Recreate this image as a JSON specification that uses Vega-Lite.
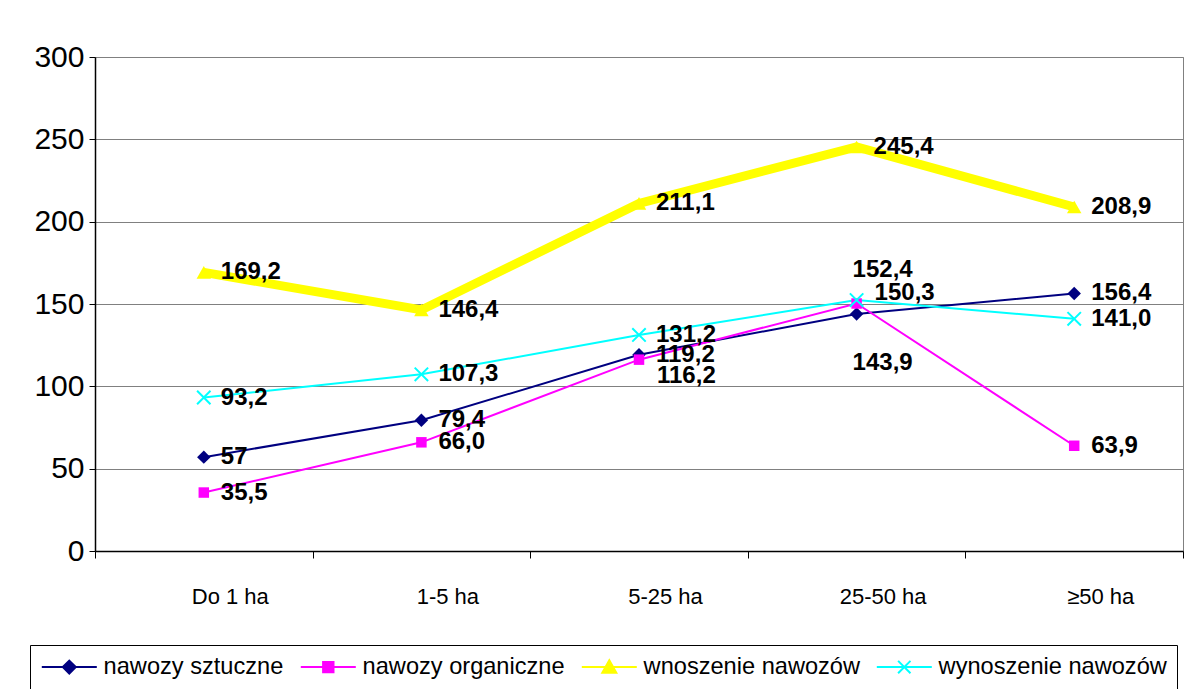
{
  "$schema": "https://vega.github.io/schema/vega-lite/v6.json",
  "width": 1088,
  "height": 494,
  "autosize": {"type": "none"},
  "padding": {"left": 95, "top": 57, "right": 7, "bottom": 138},
  "background": "white",
  "config": {
    "font": "Liberation Sans",
    "view": {"stroke": "#808080", "strokeWidth": 1}
  },
  "data": {
    "values": [
      {"cat": "Do 1 ha", "series": "nawozy sztuczne", "value": 57, "label": "57"},
      {"cat": "1-5 ha", "series": "nawozy sztuczne", "value": 79.4, "label": "79,4"},
      {"cat": "5-25 ha", "series": "nawozy sztuczne", "value": 119.2, "label": "119,2"},
      {"cat": "25-50 ha", "series": "nawozy sztuczne", "value": 143.9, "label": "143,9"},
      {"cat": "≥50 ha", "series": "nawozy sztuczne", "value": 156.4, "label": "156,4"},
      {"cat": "Do 1 ha", "series": "nawozy organiczne", "value": 35.5, "label": "35,5"},
      {"cat": "1-5 ha", "series": "nawozy organiczne", "value": 66.0, "label": "66,0"},
      {"cat": "5-25 ha", "series": "nawozy organiczne", "value": 116.2, "label": "116,2"},
      {"cat": "25-50 ha", "series": "nawozy organiczne", "value": 150.3, "label": "150,3"},
      {"cat": "≥50 ha", "series": "nawozy organiczne", "value": 63.9, "label": "63,9"},
      {"cat": "Do 1 ha", "series": "wnoszenie nawozów", "value": 169.2, "label": "169,2"},
      {"cat": "1-5 ha", "series": "wnoszenie nawozów", "value": 146.4, "label": "146,4"},
      {"cat": "5-25 ha", "series": "wnoszenie nawozów", "value": 211.1, "label": "211,1"},
      {"cat": "25-50 ha", "series": "wnoszenie nawozów", "value": 245.4, "label": "245,4"},
      {"cat": "≥50 ha", "series": "wnoszenie nawozów", "value": 208.9, "label": "208,9"},
      {"cat": "Do 1 ha", "series": "wynoszenie nawozów", "value": 93.2, "label": "93,2"},
      {"cat": "1-5 ha", "series": "wynoszenie nawozów", "value": 107.3, "label": "107,3"},
      {"cat": "5-25 ha", "series": "wynoszenie nawozów", "value": 131.2, "label": "131,2"},
      {"cat": "25-50 ha", "series": "wynoszenie nawozów", "value": 152.4, "label": "152,4"},
      {"cat": "≥50 ha", "series": "wynoszenie nawozów", "value": 141.0, "label": "141,0"}
    ]
  },
  "encoding": {
    "x": {
      "field": "cat",
      "type": "nominal",
      "sort": ["Do 1 ha", "1-5 ha", "5-25 ha", "25-50 ha", "≥50 ha"],
      "scale": {"type": "band", "paddingInner": 0, "paddingOuter": 0},
      "axis": {
        "title": null,
        "labelAngle": 0,
        "labelFontSize": 22,
        "labelColor": "black",
        "labelOffset": 26,
        "labelPadding": 28,
        "tickBand": "extent",
        "tickSize": 7,
        "tickColor": "black",
        "domainColor": "black",
        "domainWidth": 1.5,
        "grid": false
      }
    },
    "y": {
      "field": "value",
      "type": "quantitative",
      "scale": {"domain": [0, 300], "nice": false, "zero": true},
      "axis": {
        "title": null,
        "values": [0, 50, 100, 150, 200, 250, 300],
        "labelFontSize": 30,
        "labelColor": "black",
        "labelPadding": 5,
        "tickSize": 6,
        "tickColor": "black",
        "domainColor": "black",
        "domainWidth": 1.5,
        "grid": true,
        "gridColor": "#808080",
        "gridWidth": 1
      }
    }
  },
  "layer": [
    {
      "mark": {"type": "line", "strokeJoin": "miter"},
      "encoding": {
        "color": {
          "field": "series",
          "type": "nominal",
          "scale": {
            "domain": ["nawozy sztuczne", "nawozy organiczne", "wnoszenie nawozów", "wynoszenie nawozów"],
            "range": ["#000080", "#FF00FF", "#FFFF00", "#00FFFF"]
          },
          "legend": {
            "title": null,
            "orient": "none",
            "legendX": -65,
            "legendY": 588,
            "direction": "horizontal",
            "padding": 10,
            "strokeColor": "black",
            "fillColor": "white",
            "labelFontSize": 23.6,
            "labelColor": "black",
            "labelLimit": 0,
            "labelOffset": 40,
            "columnPadding": 12,
            "symbolSize": 400,
            "symbolStrokeWidth": 2,
            "encode": {
              "symbols": {
                "update": {
                  "shape": {"signal": "datum.value === 'nawozy sztuczne' ? 'M-1,0H4.5M1.75,-0.65L2.4,0L1.75,0.65L1.1,0Z' : datum.value === 'nawozy organiczne' ? 'M-1,0H4.5M1.23,-0.52H2.27V0.52H1.23Z' : datum.value === 'wnoszenie nawozów' ? 'M-1,0H4.5M1.75,-0.68L2.45,0.56L1.05,0.56Z' : 'M-1,0H4.5M1.13,-0.62L2.37,0.62M2.37,-0.62L1.13,0.62'"},
                  "fill": {"scale": "color", "field": "value"},
                  "stroke": {"scale": "color", "field": "value"},
                  "strokeWidth": {"value": 2},
                  "opacity": {"value": 1}
                }
              }
            }
          }
        },
        "strokeWidth": {
          "condition": {"test": "datum.series === 'wnoszenie nawozów'", "value": 9},
          "value": 2
        }
      }
    },
    {
      "transform": [{"filter": "datum.series === 'nawozy sztuczne'"}],
      "mark": {"type": "point", "shape": "diamond", "size": 180, "filled": true, "opacity": 1, "color": "#000080"}
    },
    {
      "transform": [{"filter": "datum.series === 'nawozy organiczne'"}],
      "mark": {"type": "point", "shape": "square", "size": 110, "filled": true, "opacity": 1, "color": "#FF00FF"}
    },
    {
      "transform": [{"filter": "datum.series === 'wnoszenie nawozów'"}],
      "mark": {"type": "point", "shape": "triangle-up", "size": 210, "filled": true, "opacity": 1, "color": "#FFFF00"}
    },
    {
      "transform": [{"filter": "datum.series === 'wynoszenie nawozów'"}],
      "mark": {"type": "point", "shape": "M-1,-1L1,1M1,-1L-1,1", "size": 180, "filled": false, "opacity": 1, "strokeWidth": 2, "color": "#00FFFF"}
    },
    {
      "transform": [
        {"filter": "!((datum.cat === '25-50 ha') || (datum.cat === '5-25 ha' && datum.series === 'nawozy organiczne'))"}
      ],
      "mark": {"type": "text", "align": "left", "baseline": "middle", "dx": 17, "dy": 0, "fontSize": 24, "fontWeight": "bold", "color": "black"},
      "encoding": {"text": {"field": "label"}}
    },
    {
      "transform": [{"filter": "datum.cat === '25-50 ha' && datum.series === 'nawozy sztuczne'"}],
      "mark": {"type": "text", "align": "left", "baseline": "middle", "dx": -4, "dy": 49, "fontSize": 24, "fontWeight": "bold", "color": "black"},
      "encoding": {"text": {"field": "label"}}
    },
    {
      "transform": [{"filter": "datum.cat === '25-50 ha' && datum.series === 'nawozy organiczne'"}],
      "mark": {"type": "text", "align": "left", "baseline": "middle", "dx": 18, "dy": -11, "fontSize": 24, "fontWeight": "bold", "color": "black"},
      "encoding": {"text": {"field": "label"}}
    },
    {
      "transform": [{"filter": "datum.cat === '25-50 ha' && datum.series === 'wynoszenie nawozów'"}],
      "mark": {"type": "text", "align": "left", "baseline": "middle", "dx": -4, "dy": -30, "fontSize": 24, "fontWeight": "bold", "color": "black"},
      "encoding": {"text": {"field": "label"}}
    },
    {
      "transform": [{"filter": "datum.cat === '25-50 ha' && datum.series === 'wnoszenie nawozów'"}],
      "mark": {"type": "text", "align": "left", "baseline": "middle", "dx": 17, "dy": 0, "fontSize": 24, "fontWeight": "bold", "color": "black"},
      "encoding": {"text": {"field": "label"}}
    },
    {
      "transform": [{"filter": "datum.cat === '5-25 ha' && datum.series === 'nawozy organiczne'"}],
      "mark": {"type": "text", "align": "left", "baseline": "middle", "dx": 18, "dy": 16, "fontSize": 24, "fontWeight": "bold", "color": "black"},
      "encoding": {"text": {"field": "label"}}
    }
  ]
}
